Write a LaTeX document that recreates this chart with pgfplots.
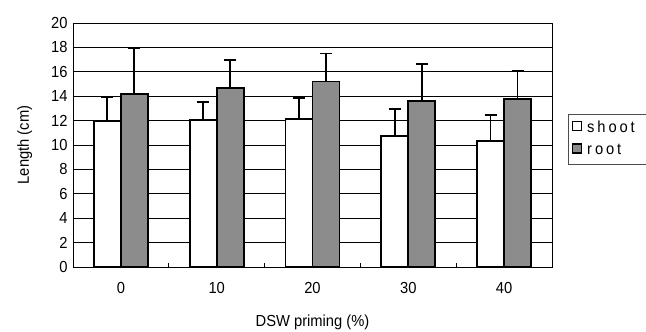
\documentclass[border=0pt]{standalone}
\usepackage{fontspec}
\setmainfont{Liberation Sans}[FakeStretch=0.92]
\newfontfamily\legfont{Liberation Sans}[FakeStretch=0.92, LetterSpace=18]
\usepackage{pgfplots}
\pgfplotsset{compat=1.18}
\begin{document}
\fontsize{16}{19}\selectfont
\begin{tikzpicture}
\path[use as bounding box] (-73pt,-65pt) rectangle (573pt,267pt);
\begin{axis}[
  at={(0pt,0pt)}, anchor=south west,
  scale only axis, width=479pt, height=244pt,
  xmin=-0.5, xmax=4.5, ymin=0, ymax=20,
  ybar=0pt, bar width=27pt,
  xtick={0,1,2,3,4}, xticklabels={0,10,20,30,40},
  major x tick style={draw=none},
  minor xtick={0.5,1.5,2.5,3.5},
  minor tick length=4pt,
  xticklabel style={yshift=-10pt},
  ytick={0,2,...,20},
  major tick length=4pt,
  tick align=inside,
  ytick pos=left, xtick pos=bottom,
  ymajorgrids, grid style={black, line width=0.8pt},
  axis line style={black, line width=0.9pt},
  tick style={black, line width=0.8pt},
  xlabel={DSW priming (\%)}, ylabel={Length (cm)},
  xlabel style={yshift=-10pt},
  ylabel style={yshift=8pt},
  /pgf/number format/assume math mode=true,
  legend style={at={(1.034,0.627)}, anchor=north west, draw=black!70, line width=0.6pt,
    inner xsep=3pt, inner ysep=5pt, row sep=5pt, font=\fontsize{16}{19}\legfont, legend cell align=left},
  legend image code/.code={\draw[#1, line width=1.5pt, yshift=-0.25ex] (2pt,0pt) rectangle (11pt,9pt);\path (14pt,0pt);},
  error bars/y dir=plus, error bars/y explicit,
  error bars/error mark options={rotate=90, mark size=6pt, line width=1.8pt},
  error bars/error bar style={line width=1.8pt, black},
]
\addplot[draw=black, line width=1.8pt, fill=white] coordinates {
  (0,11.95) +- (0,1.95)
  (1,12.05) +- (0,1.47)
  (2,12.1) +- (0,1.75)
  (3,10.72) +- (0,2.23)
  (4,10.33) +- (0,2.1)
};
\addplot[draw=black, line width=1.8pt, fill=black!45] coordinates {
  (0,14.18) +- (0,3.75)
  (1,14.65) +- (0,2.3)
  (2,15.2) +- (0,2.3)
  (3,13.6) +- (0,3.05)
  (4,13.77) +- (0,2.3)
};
\legend{{shoot\rule{16pt}{0pt}}, root}
\end{axis}
\end{tikzpicture}
\end{document}
